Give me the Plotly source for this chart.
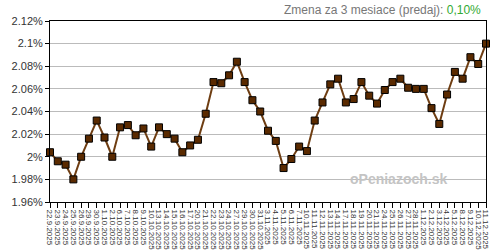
import plotly.graph_objects as go

dates = ["22.9.2025","23.9.2025","24.9.2025","25.9.2025","26.9.2025","29.9.2025","30.9.2025",
         "1.10.2025","2.10.2025","6.10.2025","7.10.2025","8.10.2025","9.10.2025","10.10.2025",
         "13.10.2025","14.10.2025","15.10.2025","16.10.2025","17.10.2025","20.10.2025","21.10.2025",
         "22.10.2025","23.10.2025","24.10.2025","27.10.2025","29.10.2025","30.10.2025","31.10.2025",
         "3.11.2025","4.11.2025","5.11.2025","6.11.2025","7.11.2025","10.11.2025","11.11.2025",
         "12.11.2025","13.11.2025","14.11.2025","17.11.2025","18.11.2025","19.11.2025","20.11.2025",
         "21.11.2025","24.11.2025","25.11.2025","26.11.2025","27.11.2025","28.11.2025",
         "1.12.2025","2.12.2025","3.12.2025","4.12.2025","5.12.2025","8.12.2025","9.12.2025",
         "10.12.2025","11.12.2025"]

rates = [2.004, 1.996, 1.993, 1.980, 2.000, 2.016, 2.032, 2.017, 2.000, 2.026,
         2.028, 2.019, 2.025, 2.009, 2.026, 2.020, 2.016, 2.004, 2.010, 2.015,
         2.038, 2.066, 2.065, 2.072, 2.084, 2.066, 2.050, 2.040, 2.023, 2.014,
         1.990, 1.998, 2.009, 2.005, 2.032, 2.048, 2.064, 2.069, 2.048, 2.051,
         2.066, 2.054, 2.047, 2.059, 2.066, 2.069, 2.061, 2.060, 2.060, 2.043,
         2.029, 2.055, 2.075, 2.069, 2.088, 2.082, 2.100]

y_tickvals = [1.96, 1.98, 2.00, 2.02, 2.04, 2.06, 2.08, 2.10, 2.12]
y_ticktext = ["1.96%", "1.98%", "2%", "2.02%", "2.04%", "2.06%", "2.08%", "2.1%", "2.12%"]

title_label = "Zmena za 3 mesiace (predaj): "
title_value = "0,10%"
watermark = "oPeniazoch.sk"

fig = go.Figure()
fig.add_trace(go.Scatter(
    x=list(range(len(dates))), y=rates, mode="lines+markers",
    line=dict(color="#6e3d12", width=2),
    marker=dict(symbol="square", size=7, color="#5a2a00", line=dict(color="#000000", width=1)),
    cliponaxis=False, hoverinfo="skip",
))

fig.update_layout(
    width=500, height=250,
    margin=dict(l=50, r=14, t=21, b=48, autoexpand=False),
    paper_bgcolor="white", plot_bgcolor="white",
    showlegend=False,
    font=dict(family="Liberation Sans, Arial, sans-serif", color="#333333"),
    xaxis=dict(
        range=[0, len(dates) - 1], automargin=False,
        tickvals=list(range(len(dates))), ticktext=dates,
        tickangle=90, tickfont=dict(size=8, color="#333333"),
        ticks="outside", ticklen=5, tickcolor="#000000", tickwidth=1,
        showgrid=False, zeroline=False,
        showline=True, linecolor="#000000", linewidth=1, mirror=True,
    ),
    yaxis=dict(
        range=[1.96, 2.12], automargin=False,
        tickvals=y_tickvals, ticktext=y_ticktext,
        tickfont=dict(size=11, color="#333333"),
        ticks="outside", ticklen=4, tickcolor="#000000", tickwidth=1,
        showgrid=True, gridcolor="#bbbbbb", gridwidth=1, zeroline=False,
        showline=True, linecolor="#000000", linewidth=1, mirror=True,
    ),
    annotations=[
        dict(text=title_label + "<span style='color:#33aa33'>" + title_value + "</span>",
             xref="paper", yref="paper", x=0.993, y=1.061, xanchor="right", yanchor="middle",
             showarrow=False, font=dict(size=12, color="#777777")),
        dict(text="<b>" + watermark + "</b>", xref="paper", yref="paper", x=0.80, y=0.127,
             xanchor="center", yanchor="middle", showarrow=False,
             font=dict(size=14, color="#c4c4c4")),
    ],
)

fig.write_html("out.html")
